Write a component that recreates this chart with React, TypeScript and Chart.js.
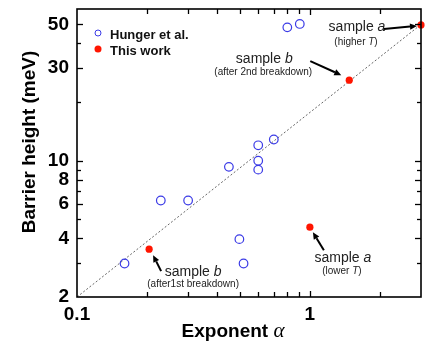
import React, { useEffect, useRef } from "react";
import { Chart, registerables } from "chart.js";
Chart.register(...registerables);

// ---- data ----
const hungerAlpha = [0.16, 0.229, 0.30, 0.449, 0.498, 0.519, 0.60, 0.60, 0.60, 0.70, 0.80, 0.905];
const hungerBarrier = [2.97, 6.25, 6.25, 9.3, 3.96, 2.97, 12.0, 10.0, 9.0, 12.85, 48.3, 50.3];
const thisAlpha = [0.204, 1.0, 1.476, 3.0];
const thisBarrier = [3.52, 4.56, 25.9, 49.7];
const guideAlpha = [0.1, 3.0];
const guideBarrier = [2, 50];
const xLabeledTicks = [0.1, 1];
const yLabeledTicks = [2, 4, 6, 8, 10, 30, 50];
const xTickMarks = [0.2, 0.3, 0.4, 0.5, 0.6, 0.7, 0.8, 0.9, 1, 2];
const yTickMarks = [3, 4, 5, 6, 7, 8, 9, 10, 20, 30, 40, 50];
const seriesLabels = ["Hunger et al.", "This work"];

type Seg = { t: string; i: boolean };
const annTitles: Seg[][] = [
  [{ t: "sample ", i: false }, { t: "b", i: true }],
  [{ t: "sample ", i: false }, { t: "a", i: true }],
  [{ t: "sample ", i: false }, { t: "b", i: true }],
  [{ t: "sample ", i: false }, { t: "a", i: true }],
];
const annSubs: Seg[][] = [
  [{ t: "(after1st breakdown)", i: false }],
  [{ t: "(lower ", i: false }, { t: "T", i: true }, { t: ")", i: false }],
  [{ t: "(after 2nd breakdown)", i: false }],
  [{ t: "(higher ", i: false }, { t: "T", i: true }, { t: ")", i: false }],
];
// pixel offsets from the annotated point: [titleDx, titleDy, subDx, subDy, tailDx, tailDy, headDx, headDy]
const annOffsets = [
  [44, 23, 44, 35, 12, 22, 4, 6],
  [33, 31, 32, 44, 14, 23, 3, 5],
  [-85, -21, -86, -8, -39, -19, -8, -5],
  [-64, 2, -65, 17, -37, 4, -4, 1],
];

const near = (v: number, arr: number[]) => arr.some((t) => Math.abs(v - t) / t < 1e-6);

function drawSegs(ctx: CanvasRenderingContext2D, segs: Seg[], cx: number, cy: number, size: number, color: string) {
  const fontFor = (s: Seg) => `${s.i ? "italic " : ""}${size}px Arial, "Liberation Sans", sans-serif`;
  let w = 0;
  segs.forEach((s) => {
    ctx.font = fontFor(s);
    w += ctx.measureText(s.t).width;
  });
  let x = cx - w / 2;
  ctx.fillStyle = color;
  ctx.textBaseline = "middle";
  ctx.textAlign = "left";
  segs.forEach((s) => {
    ctx.font = fontFor(s);
    ctx.fillText(s.t, x, cy);
    x += ctx.measureText(s.t).width;
  });
}

function arrow(ctx: CanvasRenderingContext2D, x1: number, y1: number, x2: number, y2: number) {
  const ang = Math.atan2(y2 - y1, x2 - x1);
  const hl = 7, hw = 3.2;
  const bx = x2 - hl * Math.cos(ang), by = y2 - hl * Math.sin(ang);
  ctx.strokeStyle = "#000";
  ctx.fillStyle = "#000";
  ctx.lineWidth = 2;
  ctx.beginPath();
  ctx.moveTo(x1, y1);
  ctx.lineTo(bx, by);
  ctx.stroke();
  ctx.beginPath();
  ctx.moveTo(x2, y2);
  ctx.lineTo(bx + hw * Math.sin(ang), by - hw * Math.cos(ang));
  ctx.lineTo(bx - hw * Math.sin(ang), by + hw * Math.cos(ang));
  ctx.closePath();
  ctx.fill();
}

function tick(ctx: CanvasRenderingContext2D, x1: number, y1: number, x2: number, y2: number) {
  ctx.beginPath();
  ctx.moveTo(x1, y1);
  ctx.lineTo(x2, y2);
  ctx.stroke();
}

const framePlugin = {
  id: "frame",
  afterDraw(chart: any) {
    const ctx: CanvasRenderingContext2D = chart.ctx;
    const a = chart.chartArea;
    const xs = chart.scales.x, ys = chart.scales.y;
    ctx.save();
    ctx.setLineDash([]);
    // frame
    ctx.strokeStyle = "#000";
    ctx.lineWidth = 1.6;
    ctx.strokeRect(a.left, a.top, a.right - a.left, a.bottom - a.top);
    // inward ticks
    ctx.lineWidth = 1.3;
    xTickMarks.forEach((v) => {
      const px = Math.round(xs.getPixelForValue(v)) + 0.5;
      const len = near(v, xLabeledTicks) ? 6 : 5;
      tick(ctx, px, a.bottom, px, a.bottom - len);
      tick(ctx, px, a.top, px, a.top + len);
    });
    yTickMarks.forEach((v) => {
      const py = Math.round(ys.getPixelForValue(v)) + 0.5;
      const len = near(v, yLabeledTicks) ? 6 : 4;
      tick(ctx, a.left, py, a.left + len, py);
      tick(ctx, a.right, py, a.right - len, py);
    });

    // legend
    const lx = a.left + 21, ly = a.top + 25;
    chart.data.datasets.slice(0, 2).forEach((ds: any, i: number) => {
      const y = ly + i * 16;
      ctx.beginPath();
      ctx.arc(lx, y - 1, i === 0 ? 3 : 3.5, 0, Math.PI * 2);
      if (i === 0) {
        ctx.strokeStyle = ds.borderColor;
        ctx.lineWidth = 1;
        ctx.stroke();
      } else {
        ctx.fillStyle = ds.backgroundColor;
        ctx.fill();
      }
      ctx.fillStyle = "#111";
      ctx.font = 'bold 13px Arial, "Liberation Sans", sans-serif';
      ctx.textAlign = "left";
      ctx.textBaseline = "middle";
      ctx.fillText(ds.label, lx + 12, y + 1);
    });

    // annotations
    thisAlpha.forEach((xv, i) => {
      const px = xs.getPixelForValue(xv), py = ys.getPixelForValue(thisBarrier[i]);
      const o = annOffsets[i];
      drawSegs(ctx, annTitles[i], px + o[0], py + o[1], 14, "#222");
      drawSegs(ctx, annSubs[i], px + o[2], py + o[3], 10, "#222");
      arrow(ctx, px + o[4], py + o[5], px + o[6], py + o[7]);
    });

    // axis titles
    ctx.fillStyle = "#000";
    ctx.textBaseline = "alphabetic";
    const f1 = 'bold 19px Arial, "Liberation Sans", sans-serif';
    const f2 = 'italic 21px "Liberation Serif", "DejaVu Serif", serif';
    ctx.font = f1;
    const w1 = ctx.measureText("Exponent ").width;
    ctx.font = f2;
    const w2 = ctx.measureText("α").width;
    let sx = 233 - (w1 + w2) / 2;
    ctx.font = f1;
    ctx.textAlign = "left";
    ctx.fillText("Exponent ", sx, 337);
    ctx.font = f2;
    ctx.fillText("α", sx + w1, 337);

    ctx.translate(35, 142);
    ctx.rotate(-Math.PI / 2);
    ctx.font = f1;
    ctx.textAlign = "center";
    ctx.fillText("Barrier height (meV)", 0, 0);
    ctx.restore();
  },
};

export default function App() {
  const ref = useRef<HTMLCanvasElement>(null);
  useEffect(() => {
    document.body.style.margin = "0";
    const tickFont = { family: 'Arial, "Liberation Sans", sans-serif', size: 19, weight: "bold" as const };
    const chart = new Chart(ref.current!, {
      type: "scatter",
      data: {
        datasets: [
          {
            label: seriesLabels[0],
            data: hungerAlpha.map((x, i) => ({ x, y: hungerBarrier[i] })),
            backgroundColor: "rgba(0,0,0,0)",
            borderColor: "#3b3be6",
            borderWidth: 1.2,
            pointRadius: 4.3,
            order: 2,
          },
          {
            label: seriesLabels[1],
            data: thisAlpha.map((x, i) => ({ x, y: thisBarrier[i] })),
            backgroundColor: "#ff1500",
            borderColor: "#ff1500",
            borderWidth: 0,
            pointRadius: 3.6,
            clip: false as any,
            order: 1,
          },
          {
            type: "line" as any,
            label: "guide",
            data: guideAlpha.map((x, i) => ({ x, y: guideBarrier[i] })),
            borderColor: "#666",
            borderWidth: 1,
            borderDash: [2, 2],
            pointRadius: 0,
            showLine: true,
            fill: false,
            order: 3,
          },
        ],
      },
      options: {
        responsive: false,
        animation: false,
        devicePixelRatio: 1,
        layout: { padding: { top: 9, right: 14, left: 0, bottom: 0 } },
        plugins: { legend: { display: false }, tooltip: { enabled: false } },
        scales: {
          x: {
            type: "logarithmic",
            min: 0.1,
            max: 3,
            grid: { display: true, drawOnChartArea: false, drawTicks: false, color: "rgba(0,0,0,0)" },
            border: { display: false },
            ticks: {
              autoSkip: false,
              maxRotation: 0,
              padding: 6,
              color: "#000",
              font: tickFont,
              callback: (v: any) => (near(Number(v), xLabeledTicks) ? String(Number(v)) : ""),
            },
            afterFit: (s: any) => { s.height = 45; s.paddingLeft = 0; s.paddingRight = 0; },
          },
          y: {
            type: "logarithmic",
            min: 2,
            max: 60,
            grid: { display: true, drawOnChartArea: false, drawTicks: false, color: "rgba(0,0,0,0)" },
            border: { display: false },
            ticks: {
              autoSkip: false,
              padding: 8,
              color: "#000",
              font: tickFont,
              callback: (v: any) => (near(Number(v), yLabeledTicks) ? String(Math.round(Number(v))) : ""),
            },
            afterFit: (s: any) => { s.width = 77; s.paddingTop = 0; s.paddingBottom = 0; },
          },
        },
      },
      plugins: [framePlugin],
    });
    return () => chart.destroy();
  }, []);
  return <canvas ref={ref} width={435} height={342} style={{ display: "block" }} />;
}
